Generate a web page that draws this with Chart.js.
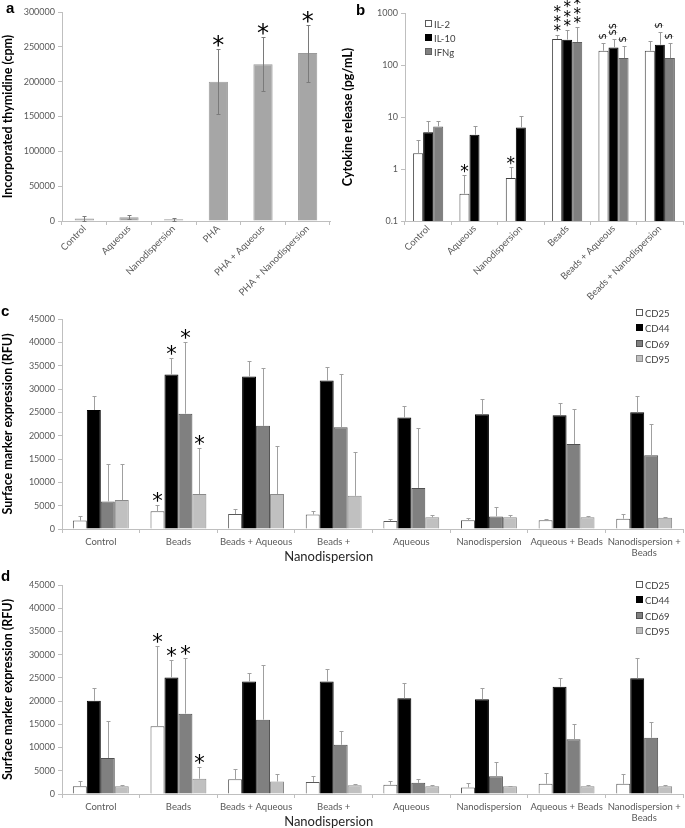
<!DOCTYPE html>
<html>
<head>
<meta charset="utf-8">
<script src="https://cdn.jsdelivr.net/npm/chart.js@4.4.1/dist/chart.umd.min.js"></script>
<style>
  body { margin: 0; background: #fff; width: 685px; height: 828px; position: relative; overflow: hidden; font-family: Lato, sans-serif; }
  canvas { position: absolute; }
  .lab { position: absolute; font: bold 15px "Liberation Sans", Arial, sans-serif; color: #000; }
  .leg { position: absolute; font: 9.5px Lato, sans-serif; color: #404040; }
  .leg div { height: 15.4px; line-height: 15.4px; white-space: nowrap; }
  .leg i { display: inline-block; width: 5px; height: 5px; border: 1px solid #595959; margin-right: 2px; vertical-align: 1px; }
</style>
</head>
<body>
<canvas id="ca" width="340" height="300" style="left:0;top:0"></canvas>
<canvas id="cb" width="345" height="300" style="left:340px;top:0"></canvas>
<canvas id="cc" width="685" height="265" style="left:0;top:300px"></canvas>
<canvas id="cd" width="685" height="263" style="left:0;top:565px"></canvas>

<div class="lab" style="left:6px;top:-1px">a</div>
<div class="lab" style="left:356px;top:1px">b</div>
<div class="lab" style="left:1px;top:302px">c</div>
<div class="lab" style="left:1px;top:567px">d</div>

<div class="leg" style="left:425px;top:18px;">
  <div style="height:14.2px;line-height:14.2px"><i style="background:#fff"></i>IL-2</div>
  <div style="height:14.2px;line-height:14.2px"><i style="background:#000;border-color:#000"></i>IL-10</div>
  <div style="height:14.2px;line-height:14.2px"><i style="background:#808080;border-color:#606060"></i>IFNg</div>
</div>
<div class="leg" style="left:636px;top:306px;">
  <div><i style="background:#fff"></i>CD25</div>
  <div><i style="background:#000;border-color:#000"></i>CD44</div>
  <div><i style="background:#808080;border-color:#505050"></i>CD69</div>
  <div><i style="background:#c0c0c0;border-color:#8a8a8a"></i>CD95</div>
</div>
<div class="leg" style="left:636px;top:578px;">
  <div><i style="background:#fff"></i>CD25</div>
  <div><i style="background:#000;border-color:#000"></i>CD44</div>
  <div><i style="background:#808080;border-color:#505050"></i>CD69</div>
  <div><i style="background:#c0c0c0;border-color:#8a8a8a"></i>CD95</div>
</div>

<script>
// ---- panel a : thymidine incorporation ----
const catsA = ["Control", "Aqueous", "Nanodispersion", "PHA", "PHA + Aqueous", "PHA + Nanodispersion"];
const thymidine = [3500, 5500, 2500, 200000, 225000, 241000];
const thymidineSd = [3000, 2800, 2000, 47000, 38500, 41000];
const starsA = ["", "", "", "*", "*", "*"];

// ---- panel b : cytokine release (log) ----
const catsB = ["Control", "Aqueous", "Nanodispersion", "Beads", "Beads + Aqueous", "Beads + Nanodispersion"];
const il2 = [2.0, 0.335, 0.67, 316, 188, 188];
const il2Sd = [1.66, 0.42, 0.4, 66, 72, 101];
const il10 = [5.1, 4.57, 6.3, 307, 218, 245];
const il10Sd = [3.1, 2.2, 4.2, 155, 98, 186];
const ifng = [6.6, null, null, 277, 136, 136];
const ifngSd = [1.6, null, null, 260, 92, 130];
const il2Marks = ["", "*", "*", "***", "$", ""];
const il10Marks = ["", "", "", "***", "$$", "$"];
const ifngMarks = ["", "", "", "***", "$", "$"];
const logTicksB = [0.1, 1, 10, 100, 1000];

// ---- panels c and d : surface markers ----
const catsCD = ["Control", "Beads", "Beads + Aqueous", "Beads +", "Aqueous", "Nanodispersion", "Aqueous + Beads", ["Nanodispersion +", "Beads"]];
const markersBeads = ["", "*", "", "", "", "", "", ""];

const cd25C = [1800, 3800, 3200, 3100, 1700, 1900, 1900, 2200];
const cd25CSd = [1000, 1300, 1100, 800, 400, 500, 200, 1000];
const cd44C = [25500, 33100, 32700, 31800, 23900, 24600, 24400, 25000];
const cd44CSd = [2900, 3500, 3300, 2900, 2500, 3300, 2500, 3600];
const cd69C = [5900, 24700, 22100, 21800, 8800, 2700, 18200, 15800];
const cd69CSd = [8000, 15300, 12300, 11400, 12900, 2000, 7600, 6700];
const cd95C = [6200, 7500, 7500, 7100, 2500, 2500, 2500, 2400];
const cd95CSd = [7800, 9800, 10300, 9500, 400, 400, 300, 200];

const cd25D = [1650, 14600, 3200, 2600, 2000, 1400, 2200, 2200];
const cd25DSd = [1250, 17200, 2100, 1300, 700, 1000, 2300, 2100];
const cd44D = [20100, 25100, 24200, 24200, 20600, 20400, 23100, 24900];
const cd44DSd = [2800, 3700, 1800, 2800, 3400, 2500, 1800, 4400];
const cd69D = [7750, 17300, 16000, 10600, 2400, 3800, 11800, 12100];
const cd69DSd = [7950, 11900, 11800, 2900, 900, 3000, 3200, 3400];
const cd95D = [1650, 3300, 2700, 1900, 1650, 1650, 1650, 1650];
const cd95DSd = [350, 2500, 1500, 300, 250, 150, 250, 250];

const TICK = "#595959";
const AXIS = "#bfbfbf";

// error whiskers + significance marks
const errPlugin = {
  id: "errbars",
  afterDatasetsDraw(chart, args, o) {
    const ctx = chart.ctx, ys = chart.scales.y;
    chart.data.datasets.forEach((ds, di) => {
      const meta = chart.getDatasetMeta(di);
      meta.data.forEach((bar, i) => {
        const v = ds.data[i];
        if (v == null) return;
        let top = bar.y;
        const sd = ds.sd ? ds.sd[i] : null;
        if (sd) {
          const x = Math.round(bar.x) + 0.5;
          top = Math.round(ys.getPixelForValue(v + sd)) + 0.5;
          const bot = o.both ? Math.round(ys.getPixelForValue(Math.max(v - sd, ys.min))) + 0.5 : bar.y;
          ctx.save();
          ctx.strokeStyle = o.color;
          ctx.lineWidth = 1;
          ctx.beginPath();
          ctx.moveTo(x, bot);
          ctx.lineTo(x, top);
          ctx.moveTo(x - o.cap, top);
          ctx.lineTo(x + o.cap, top);
          if (o.both) {
            ctx.moveTo(x - o.cap, bot);
            ctx.lineTo(x + o.cap, bot);
          }
          ctx.stroke();
          ctx.restore();
        }
        const m = ds.marks ? ds.marks[i] : "";
        if (m) drawMark(ctx, m, bar.x, top, o);
      });
    });
  }
};

function drawMark(ctx, m, x, top, o) {
  ctx.save();
  ctx.fillStyle = "#000";
  if (m[0] === "*") {
    // stacked stars get smaller glyphs than single ones
    const f = m.length > 1 ? o.stackSize : o.starSize;
    ctx.font = f + 'px "DejaVu Sans"';
    ctx.textAlign = "center";
    ctx.textBaseline = "alphabetic";
    for (let k = 0; k < m.length; k++) {
      const yc = top - o.starGap - k * o.starStep;
      ctx.fillText("*", x, yc + f * 0.56);
    }
  } else {
    ctx.font = '10px "DejaVu Sans"';
    ctx.translate(x, top - 4);
    ctx.rotate(-Math.PI / 2);
    ctx.textAlign = "left";
    ctx.textBaseline = "middle";
    ctx.fillText(m, 0, 0);
  }
  ctx.restore();
}

// second line of "Beads + Nanodispersion", drawn larger like the original
const nanoLabel = {
  id: "nanoLabel",
  afterDraw(chart) {
    const ctx = chart.ctx, xs = chart.scales.x;
    ctx.save();
    ctx.font = "13px Lato";
    ctx.fillStyle = "#262626";
    ctx.textAlign = "center";
    ctx.textBaseline = "middle";
    ctx.fillText("Nanodispersion", xs.getPixelForValue(3) - 5, chart.chartArea.bottom + 28);
    ctx.restore();
  }
};

function yAxis(title, width, extra) {
  return Object.assign({
    beginAtZero: true,
    afterFit: s => { s.width = width; },
    border: { color: AXIS },
    grid: { drawOnChartArea: false, color: AXIS, tickLength: 4 },
    ticks: { color: TICK, font: { family: "Lato", size: 9 }, padding: 3, callback: v => String(v) },
    title: { display: true, text: title, color: "#000", font: { family: "Lato", size: 12.5, weight: "bold" }, padding: 0 }
  }, extra);
}

function xAxis(height, rot) {
  return {
    afterFit: s => { s.height = height; },
    border: { color: AXIS },
    grid: { drawOnChartArea: false, color: AXIS, tickLength: 4 },
    ticks: {
      color: TICK, font: { family: "Lato", size: 9.5, lineHeight: 1.2 }, padding: rot ? -2 : 3,
      autoSkip: false, minRotation: rot, maxRotation: rot
    }
  };
}

function makeChart(id, cats, datasets, scales, padRight, padTop, errOpts, plugins) {
  return new Chart(document.getElementById(id), {
    type: "bar",
    data: { labels: cats, datasets: datasets },
    options: {
      responsive: false,
      animation: false,
      events: [],
      layout: { padding: { top: padTop, right: padRight, left: 0, bottom: 0 } },
      plugins: { legend: { display: false }, tooltip: { enabled: false }, errbars: errOpts },
      scales: scales
    },
    plugins: [errPlugin].concat(plugins || [])
  });
}

/* ========== PANEL A ========== */
makeChart("ca", catsA, [{
  data: thymidine, sd: thymidineSd, marks: starsA,
  backgroundColor: "#a6a6a6", borderColor: "#9a9a9a", borderWidth: 1,
  barPercentage: 1, categoryPercentage: 0.43
}], {
  x: xAxis(300 - 221, 45),
  y: yAxis("Incorporated thymidine (cpm)", 62, { min: 0, max: 300000, ticks: { color: TICK, font: { family: "Lato", size: 9 }, padding: 3, stepSize: 50000, callback: v => String(v) } })
}, 340 - 330, 12, { color: "#7a7a7a", cap: 2, both: true, starSize: 24, stackSize: 24, starGap: 10, starStep: 0 });

/* ========== PANEL B ========== */
const barB = { borderWidth: 1, barPercentage: 1, categoryPercentage: 0.65 };
makeChart("cb", catsB, [
  Object.assign({ data: il2, sd: il2Sd, marks: il2Marks, backgroundColor: "#fff", borderColor: "#404040" }, barB),
  Object.assign({ data: il10, sd: il10Sd, marks: il10Marks, backgroundColor: "#000", borderColor: "#000" }, barB),
  Object.assign({ data: ifng, sd: ifngSd, marks: ifngMarks, backgroundColor: "#808080", borderColor: "#606060" }, barB)
], {
  x: xAxis(300 - 221, 45),
  y: yAxis("Cytokine release (pg/mL)", 65, {
    type: "logarithmic", min: 0.1, max: 1000, beginAtZero: false,
    afterBuildTicks: s => { s.ticks = logTicksB.map(v => ({ value: v, major: true })); },
    ticks: { color: TICK, font: { family: "Lato", size: 9 }, padding: 3, callback: v => String(v) }
  })
}, 345 - 343, 13, { color: "#9a9a9a", cap: 2, both: false, starSize: 17, stackSize: 15, starGap: 8, starStep: 9.3 });

/* ========== PANELS C & D ========== */
function markerSets(a, aSd, b, bSd, c, cSd, d, dSd) {
  const base = { borderWidth: 1, barPercentage: 1, categoryPercentage: 0.72 };
  return [
    Object.assign({ data: a, sd: aSd, marks: markersBeads, backgroundColor: "#fff", borderColor: "#595959" }, base),
    Object.assign({ data: b, sd: bSd, marks: markersBeads, backgroundColor: "#000", borderColor: "#000" }, base),
    Object.assign({ data: c, sd: cSd, marks: markersBeads, backgroundColor: "#808080", borderColor: "#505050" }, base),
    Object.assign({ data: d, sd: dSd, marks: markersBeads, backgroundColor: "#c0c0c0", borderColor: "#8a8a8a" }, base)
  ];
}
const yCD = { min: 0, max: 45000, ticks: { color: TICK, font: { family: "Lato", size: 9 }, padding: 3, stepSize: 5000, callback: v => String(v) } };
const errCD = { color: "#a0a0a0", cap: 2, both: false, starSize: 21, stackSize: 21, starGap: 9, starStep: 0 };

makeChart("cc", catsCD, markerSets(cd25C, cd25CSd, cd44C, cd44CSd, cd69C, cd69CSd, cd95C, cd95CSd), {
  x: xAxis(265 - 229, 0),
  y: yAxis("Surface marker expression (RFU)", 62, yCD)
}, 685 - 683, 19, errCD, [nanoLabel]);

makeChart("cd", catsCD, markerSets(cd25D, cd25DSd, cd44D, cd44DSd, cd69D, cd69DSd, cd95D, cd95DSd), {
  x: xAxis(263 - 229, 0),
  y: yAxis("Surface marker expression (RFU)", 62, yCD)
}, 685 - 683, 20, errCD, [nanoLabel]);
</script>
</body>
</html>
